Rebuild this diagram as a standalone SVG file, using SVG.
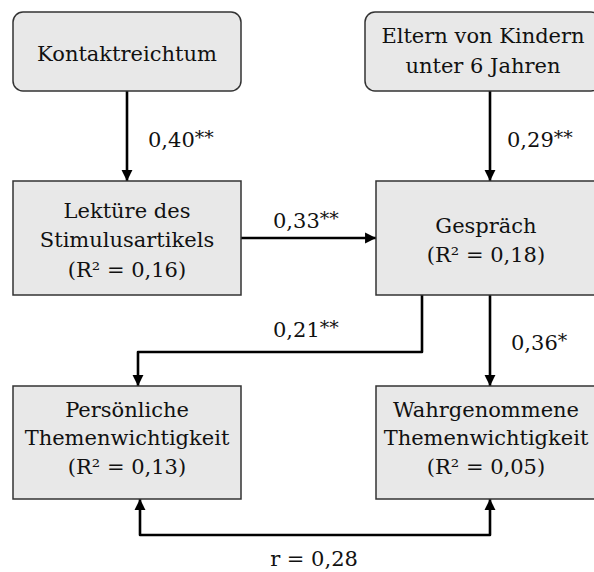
<svg xmlns="http://www.w3.org/2000/svg" width="594" height="572" viewBox="0 0 594 572">
<style>
.box{fill:#e8e8e8;stroke:#333;stroke-width:1.5}
.t{font-family:"DejaVu Serif","Liberation Serif",serif;font-size:21px;fill:#111;text-anchor:middle}
.l{font-family:"DejaVu Serif","Liberation Serif",serif;font-size:21px;fill:#111}
.s{font-size:19px}
.c{fill:none;stroke:#000;stroke-width:2.6;stroke-linejoin:round}
</style>
<defs>
<marker id="ah" viewBox="0 0 10 10" refX="10" refY="5" markerWidth="4.2" markerHeight="4.4" orient="auto-start-reverse" markerUnits="strokeWidth">
<path d="M0,0 L10,5 L0,10 z" fill="#000"/>
</marker>
</defs>
<rect width="594" height="572" fill="#fff"/>
<g id="connectors">
<path class="c" d="M127,91 V181" marker-end="url(#ah)"/>
<path class="c" d="M490,91 V181" marker-end="url(#ah)"/>
<path class="c" d="M241,238 H376" marker-end="url(#ah)"/>
<path class="c" d="M422,295 V352 H138 V386" marker-end="url(#ah)"/>
<path class="c" d="M490,295 V386" marker-end="url(#ah)"/>
<path class="c" d="M140,499 V535 H490 V499" marker-start="url(#ah)" marker-end="url(#ah)"/>
<text class="l" x="148" y="147">0,40<tspan class="s" dy="-3">**</tspan></text>
<text class="l" x="507" y="147">0,29<tspan class="s" dy="-3">**</tspan></text>
<text class="l" x="273" y="228">0,33<tspan class="s" dy="-3">**</tspan></text>
<text class="l" x="273" y="337">0,21<tspan class="s" dy="-3">**</tspan></text>
<text class="l" x="511" y="350">0,36<tspan class="s" dy="-3">*</tspan></text>
<text class="t" x="314" y="566">r = 0,28</text>
</g>
<g id="kontaktreichtum">
<rect class="box" x="13" y="12" width="228" height="79" rx="10"/>
<text class="t" x="127" y="61">Kontaktreichtum</text>
</g>
<g id="eltern">
<rect class="box" x="365" y="12" width="236" height="79" rx="10"/>
<text class="t" x="483" y="43">Eltern von Kindern</text>
<text class="t" x="483" y="73">unter 6 Jahren</text>
</g>
<g id="lektuere">
<rect class="box" x="13" y="181" width="228" height="114"/>
<text class="t" x="127" y="218">Lektüre des</text>
<text class="t" x="127" y="247">Stimulusartikels</text>
<text class="t" x="127" y="277">(R² = 0,16)</text>
</g>
<g id="gespraech">
<rect class="box" x="376" y="181" width="222" height="114"/>
<text class="t" x="486" y="233">Gespräch</text>
<text class="t" x="486" y="262">(R² = 0,18)</text>
</g>
<g id="persoenlich">
<rect class="box" x="13" y="386" width="228" height="113"/>
<text class="t" x="127" y="417">Persönliche</text>
<text class="t" x="127" y="445">Themenwichtigkeit</text>
<text class="t" x="127" y="474">(R² = 0,13)</text>
</g>
<g id="wahrgenommen">
<rect class="box" x="376" y="386" width="222" height="113"/>
<text class="t" x="486" y="417">Wahrgenommene</text>
<text class="t" x="486" y="445">Themenwichtigkeit</text>
<text class="t" x="486" y="474">(R² = 0,05)</text>
</g>
</svg>
